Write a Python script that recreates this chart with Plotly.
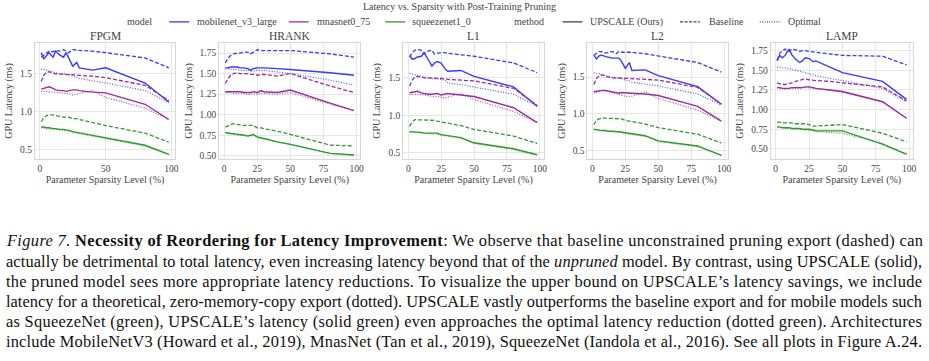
import plotly.graph_objects as go

# ---------------- data ----------------
SPARSITY = [1, 3, 5, 7, 10, 12, 15, 18, 20, 22, 25, 28, 30, 40, 50, 80, 98]
PRUNERS = ["FPGM", "HRANK", "L1", "L2", "LAMP"]
MODELS = ["mobilenet_v3_large", "mnasnet0_75", "squeezenet1_0"]
METHODS = ["UPSCALE (Ours)", "Baseline", "Optimal"]

# FPGM
fpgm_mbv3_ours = [1.78, 1.70, 1.74, 1.78, 1.72, 1.80, 1.75, 1.72, 1.78, 1.70, 1.60, 1.65, 1.58, 1.55, 1.58, 1.38, 1.13]
fpgm_mbv3_base = [1.72, 1.75, 1.78, 1.80, 1.79, 1.81, 1.80, 1.82, 1.80, 1.78, 1.82, 1.82, 1.81, 1.80, 1.78, 1.71, 1.58]
fpgm_mbv3_opt = [1.56, 1.56, 1.55, 1.54, 1.52, 1.51, 1.50, 1.50, 1.49, 1.49, 1.48, 1.46, 1.44, 1.41, 1.38, 1.28, 1.12]
fpgm_mnas_ours = [1.30, 1.31, 1.32, 1.33, 1.31, 1.29, 1.28, 1.28, 1.27, 1.28, 1.29, 1.29, 1.28, 1.26, 1.25, 1.10, 0.90]
fpgm_mnas_base = [1.40, 1.48, 1.52, 1.53, 1.51, 1.50, 1.50, 1.49, 1.49, 1.49, 1.49, 1.48, 1.48, 1.47, 1.45, 1.35, 1.15]
fpgm_mnas_opt = [1.27, 1.27, 1.27, 1.26, 1.26, 1.26, 1.25, 1.25, 1.24, 1.24, 1.22, 1.23, 1.24, 1.28, 1.19, 1.05, 0.90]
fpgm_sq_ours = [0.80, 0.80, 0.79, 0.79, 0.78, 0.78, 0.77, 0.77, 0.76, 0.76, 0.74, 0.73, 0.72, 0.69, 0.65, 0.56, 0.44]
fpgm_sq_base = [0.87, 0.92, 0.95, 0.96, 0.96, 0.95, 0.94, 0.93, 0.93, 0.93, 0.91, 0.91, 0.90, 0.86, 0.82, 0.72, 0.60]
fpgm_sq_opt = [0.79, 0.79, 0.78, 0.78, 0.77, 0.77, 0.76, 0.76, 0.75, 0.75, 0.73, 0.72, 0.71, 0.68, 0.64, 0.55, 0.44]

# HRANK
hrank_mbv3_ours = [1.57, 1.57, 1.58, 1.58, 1.58, 1.57, 1.57, 1.56, 1.54, 1.56, 1.57, 1.57, 1.57, 1.56, 1.55, 1.51, 1.48]
hrank_mbv3_base = [1.63, 1.69, 1.72, 1.74, 1.75, 1.75, 1.76, 1.76, 1.74, 1.76, 1.79, 1.78, 1.78, 1.78, 1.78, 1.74, 1.70]
hrank_mbv3_opt = [1.56, 1.56, 1.55, 1.55, 1.55, 1.54, 1.54, 1.54, 1.53, 1.53, 1.54, 1.54, 1.54, 1.52, 1.50, 1.42, 1.36]
hrank_mnas_ours = [1.28, 1.28, 1.28, 1.28, 1.28, 1.28, 1.27, 1.27, 1.27, 1.28, 1.27, 1.29, 1.28, 1.27, 1.30, 1.14, 1.05]
hrank_mnas_base = [1.38, 1.44, 1.48, 1.50, 1.51, 1.50, 1.50, 1.50, 1.49, 1.49, 1.48, 1.49, 1.49, 1.47, 1.50, 1.35, 1.27]
hrank_mnas_opt = [1.27, 1.27, 1.27, 1.26, 1.26, 1.26, 1.26, 1.25, 1.25, 1.26, 1.25, 1.26, 1.26, 1.25, 1.27, 1.13, 1.05]
hrank_sq_ours = [0.78, 0.78, 0.77, 0.77, 0.76, 0.76, 0.75, 0.74, 0.75, 0.76, 0.73, 0.72, 0.71, 0.67, 0.64, 0.53, 0.51]
hrank_sq_base = [0.85, 0.87, 0.88, 0.89, 0.88, 0.88, 0.87, 0.87, 0.87, 0.87, 0.84, 0.84, 0.83, 0.80, 0.76, 0.63, 0.62]
hrank_sq_opt = [0.78, 0.77, 0.77, 0.76, 0.76, 0.75, 0.75, 0.74, 0.74, 0.75, 0.72, 0.71, 0.71, 0.67, 0.64, 0.53, 0.51]

# L1
l1_mbv3_ours = [1.80, 1.75, 1.76, 1.78, 1.79, 1.84, 1.75, 1.66, 1.70, 1.72, 1.70, 1.62, 1.59, 1.60, 1.52, 1.38, 1.12]
l1_mbv3_base = [1.78, 1.84, 1.87, 1.88, 1.87, 1.82, 1.86, 1.87, 1.82, 1.83, 1.84, 1.84, 1.83, 1.81, 1.79, 1.70, 1.57]
l1_mbv3_opt = [1.56, 1.55, 1.54, 1.53, 1.52, 1.51, 1.50, 1.49, 1.49, 1.49, 1.48, 1.47, 1.43, 1.41, 1.38, 1.28, 1.12]
l1_mnas_ours = [1.30, 1.31, 1.32, 1.32, 1.30, 1.29, 1.28, 1.28, 1.29, 1.29, 1.27, 1.28, 1.29, 1.27, 1.25, 1.10, 0.90]
l1_mnas_base = [1.39, 1.47, 1.51, 1.52, 1.51, 1.50, 1.50, 1.50, 1.49, 1.49, 1.49, 1.49, 1.48, 1.47, 1.46, 1.36, 1.13]
l1_mnas_opt = [1.28, 1.28, 1.29, 1.29, 1.28, 1.27, 1.26, 1.25, 1.25, 1.25, 1.24, 1.23, 1.24, 1.29, 1.21, 1.05, 0.90]
l1_sq_ours = [0.78, 0.78, 0.77, 0.77, 0.77, 0.76, 0.76, 0.76, 0.76, 0.76, 0.74, 0.73, 0.73, 0.70, 0.63, 0.55, 0.47]
l1_sq_base = [0.85, 0.91, 0.94, 0.94, 0.94, 0.94, 0.93, 0.93, 0.93, 0.92, 0.91, 0.90, 0.89, 0.86, 0.81, 0.72, 0.62]
l1_sq_opt = [0.77, 0.77, 0.77, 0.76, 0.76, 0.76, 0.75, 0.75, 0.75, 0.75, 0.73, 0.72, 0.72, 0.69, 0.62, 0.54, 0.46]

# L2
l2_mbv3_ours = [1.80, 1.75, 1.79, 1.80, 1.78, 1.77, 1.76, 1.76, 1.76, 1.72, 1.62, 1.70, 1.59, 1.60, 1.52, 1.37, 1.13]
l2_mbv3_base = [1.80, 1.83, 1.85, 1.85, 1.83, 1.84, 1.85, 1.82, 1.85, 1.84, 1.84, 1.84, 1.84, 1.82, 1.79, 1.70, 1.57]
l2_mbv3_opt = [1.56, 1.56, 1.55, 1.54, 1.52, 1.51, 1.50, 1.49, 1.49, 1.48, 1.46, 1.45, 1.43, 1.41, 1.38, 1.27, 1.12]
l2_mnas_ours = [1.30, 1.31, 1.31, 1.32, 1.32, 1.31, 1.30, 1.29, 1.28, 1.29, 1.29, 1.28, 1.28, 1.27, 1.25, 1.10, 0.90]
l2_mnas_base = [1.40, 1.48, 1.52, 1.53, 1.51, 1.50, 1.49, 1.49, 1.49, 1.49, 1.49, 1.48, 1.48, 1.47, 1.46, 1.36, 1.13]
l2_mnas_opt = [1.28, 1.29, 1.30, 1.31, 1.31, 1.30, 1.28, 1.27, 1.27, 1.25, 1.24, 1.23, 1.24, 1.30, 1.21, 1.05, 0.90]
l2_sq_ours = [0.79, 0.78, 0.78, 0.77, 0.77, 0.76, 0.76, 0.76, 0.76, 0.75, 0.74, 0.73, 0.73, 0.70, 0.63, 0.56, 0.43]
l2_sq_base = [0.85, 0.91, 0.93, 0.94, 0.94, 0.94, 0.93, 0.93, 0.93, 0.93, 0.91, 0.90, 0.89, 0.86, 0.81, 0.72, 0.60]
l2_sq_opt = [0.78, 0.78, 0.77, 0.77, 0.76, 0.76, 0.75, 0.75, 0.75, 0.74, 0.73, 0.72, 0.72, 0.69, 0.62, 0.55, 0.43]

# LAMP
lamp_mbv3_ours = [1.62, 1.69, 1.66, 1.69, 1.77, 1.70, 1.64, 1.60, 1.62, 1.66, 1.65, 1.61, 1.62, 1.55, 1.47, 1.36, 1.13]
lamp_mbv3_base = [1.63, 1.72, 1.75, 1.77, 1.74, 1.77, 1.76, 1.74, 1.75, 1.75, 1.74, 1.73, 1.73, 1.71, 1.69, 1.68, 1.57]
lamp_mbv3_opt = [1.54, 1.54, 1.53, 1.53, 1.52, 1.51, 1.50, 1.49, 1.48, 1.47, 1.45, 1.44, 1.43, 1.40, 1.37, 1.27, 1.10]
lamp_mnas_ours = [1.28, 1.28, 1.27, 1.27, 1.27, 1.28, 1.28, 1.28, 1.28, 1.29, 1.29, 1.28, 1.27, 1.25, 1.23, 1.10, 0.89]
lamp_mnas_base = [1.34, 1.33, 1.32, 1.32, 1.33, 1.34, 1.36, 1.37, 1.38, 1.39, 1.38, 1.37, 1.37, 1.36, 1.34, 1.29, 1.11]
lamp_mnas_opt = [1.28, 1.27, 1.27, 1.26, 1.27, 1.27, 1.27, 1.27, 1.28, 1.28, 1.28, 1.27, 1.27, 1.25, 1.22, 1.10, 0.89]
lamp_sq_ours = [0.78, 0.78, 0.77, 0.77, 0.77, 0.76, 0.76, 0.76, 0.75, 0.75, 0.75, 0.74, 0.73, 0.73, 0.73, 0.56, 0.43]
lamp_sq_base = [0.84, 0.84, 0.83, 0.83, 0.83, 0.83, 0.82, 0.82, 0.82, 0.82, 0.81, 0.79, 0.79, 0.80, 0.81, 0.70, 0.59]
lamp_sq_opt = [0.77, 0.77, 0.77, 0.76, 0.76, 0.76, 0.75, 0.75, 0.75, 0.74, 0.74, 0.73, 0.72, 0.71, 0.70, 0.57, 0.44]

XTICKS = {"FPGM": [0, 50, 100], "HRANK": [0, 25, 50, 75, 100], "L1": [0, 25, 50, 75, 100],
          "L2": [0, 25, 50, 75, 100], "LAMP": [0, 25, 50, 75, 100]}
YTICKS = {"FPGM": ([0.5, 1.0, 1.5], ["0.5", "1.0", "1.5"]),
          "HRANK": ([0.5, 0.75, 1.0, 1.25, 1.5, 1.75], ["0.50", "0.75", "1.00", "1.25", "1.50", "1.75"]),
          "L1": ([0.5, 1.0, 1.5], ["0.5", "1.0", "1.5"]),
          "L2": ([0.5, 1.0, 1.5], ["0.5", "1.0", "1.5"]),
          "LAMP": ([0.5, 0.75, 1.0, 1.25, 1.5, 1.75], ["0.50", "0.75", "1.00", "1.25", "1.50", "1.75"])}

DATA = {
    "FPGM": [[fpgm_mbv3_ours, fpgm_mbv3_base, fpgm_mbv3_opt], [fpgm_mnas_ours, fpgm_mnas_base, fpgm_mnas_opt], [fpgm_sq_ours, fpgm_sq_base, fpgm_sq_opt]],
    "HRANK": [[hrank_mbv3_ours, hrank_mbv3_base, hrank_mbv3_opt], [hrank_mnas_ours, hrank_mnas_base, hrank_mnas_opt], [hrank_sq_ours, hrank_sq_base, hrank_sq_opt]],
    "L1": [[l1_mbv3_ours, l1_mbv3_base, l1_mbv3_opt], [l1_mnas_ours, l1_mnas_base, l1_mnas_opt], [l1_sq_ours, l1_sq_base, l1_sq_opt]],
    "L2": [[l2_mbv3_ours, l2_mbv3_base, l2_mbv3_opt], [l2_mnas_ours, l2_mnas_base, l2_mnas_opt], [l2_sq_ours, l2_sq_base, l2_sq_opt]],
    "LAMP": [[lamp_mbv3_ours, lamp_mbv3_base, lamp_mbv3_opt], [lamp_mnas_ours, lamp_mnas_base, lamp_mnas_opt], [lamp_sq_ours, lamp_sq_base, lamp_sq_opt]],
}

CAPTION_LINES = [
    "<i>Figure 7.</i> <b>Necessity of Reordering for Latency Improvement</b>: We observe that baseline unconstrained pruning export (dashed) can",
    "actually be detrimental to total latency, even increasing latency beyond that of the <i>unpruned</i> model. By contrast, using UPSCALE (solid),",
    "the pruned model sees more appropriate latency reductions. To visualize the upper bound on UPSCALE\u2019s latency savings, we include",
    "latency for a theoretical, zero-memory-copy export (dotted). UPSCALE vastly outperforms the baseline export and for mobile models such",
    "as SqueezeNet (green), UPSCALE\u2019s latency (solid green) even approaches the optimal latency reduction (dotted green). Architectures",
    "include MobileNetV3 (Howard et al., 2019), MnasNet (Tan et al., 2019), SqueezeNet (Iandola et al., 2016). See all plots in Figure A.24.",
]

# ---------------- styling / layout ----------------
W, H = 929, 361
COLORS = ["#3a3af6", "#9a2e9a", "#2f9a2f"]
DASHES = ["solid", "4px,2px", "1px,1.6px"]
WIDTHS = [1.4, 1.3, 1.2]
SERIF = "Liberation Serif"
CAPFONT = "Liberation Serif"
TXT = "#444444"
TICK_SIZE = 9.5
LABEL_SIZE = 10

X_PX = [(35, 176), (220, 362), (405, 546), (590, 731), (774, 917)]
Y_PX = (43, 160)
YRANGE = {"FPGM": [0.378, 1.91], "HRANK": [0.46, 1.875], "L1": [0.411, 1.971],
          "L2": [0.38, 1.97], "LAMP": [0.37, 1.851]}
XRANGE = [-3.8, 102.9]


def px(x):
    return x / W


def py(y):
    return 1 - y / H


fig = go.Figure()
layout = dict(width=W, height=H, margin=dict(l=0, r=0, t=0, b=0),
              paper_bgcolor="white", plot_bgcolor="white", showlegend=False,
              font=dict(family=SERIF, color=TXT, size=10))
annotations = []
shapes = []

for i, name in enumerate(PRUNERS):
    k = "" if i == 0 else str(i + 1)
    xa, ya = "x" + k, "y" + k
    for m in range(3):
        for t in range(3):
            fig.add_trace(go.Scatter(
                x=SPARSITY, y=DATA[name][m][t], mode="lines", xaxis=xa, yaxis=ya,
                line=dict(color=COLORS[m], dash=DASHES[t], width=WIDTHS[t]),
                opacity=0.85 if t == 2 else 1.0,
                name=f"{MODELS[m]} {METHODS[t]}"))
    x0, x1 = X_PX[i]
    layout["xaxis" + k] = dict(
        domain=[px(x0), px(x1)], anchor=ya, range=XRANGE, tickvals=XTICKS[name],
        showgrid=True, gridcolor="#e6e6e6", gridwidth=1, zeroline=False,
        showline=True, mirror=True, linecolor="#d6d6d6", linewidth=1,
        ticks="", tickfont=dict(size=TICK_SIZE, family=SERIF, color=TXT),
        title=dict(text="Parameter Sparsity Level (%)", font=dict(size=LABEL_SIZE, family=SERIF, color=TXT), standoff=2))
    tv, tt = YTICKS[name]
    layout["yaxis" + k] = dict(
        domain=[py(Y_PX[1]), py(Y_PX[0])], anchor=xa, range=YRANGE[name],
        tickvals=tv, ticktext=tt,
        showgrid=True, gridcolor="#e6e6e6", gridwidth=1, zeroline=False,
        showline=True, mirror=True, linecolor="#d6d6d6", linewidth=1,
        ticks="", tickfont=dict(size=TICK_SIZE, family=SERIF, color=TXT),
        title=dict(text="GPU Latency (ms)", font=dict(size=LABEL_SIZE, family=SERIF, color=TXT), standoff=5))
    annotations.append(dict(text=name, x=px((x0 + x1) / 2), y=py(36), xref="paper", yref="paper",
                            xanchor="center", yanchor="middle", showarrow=False,
                            font=dict(size=11.5, family=SERIF, color=TXT)))

# super title
annotations.append(dict(text="Latency vs. Sparsity with Post-Training Pruning", x=px(461), y=py(7),
                        xref="paper", yref="paper", xanchor="center", yanchor="middle", showarrow=False,
                        font=dict(size=10, family=SERIF, color=TXT)))

# legend (manual)
LEG_Y = 22
leg_items = [("model", None, None, 126, None),
             (MODELS[0], COLORS[0], "solid", 196, (170, 190)),
             (MODELS[1], COLORS[1], "solid", 316, (290, 310)),
             (MODELS[2], COLORS[2], "solid", 412, (387, 407)),
             ("method", None, None, 514, None),
             (METHODS[0], TXT, "solid", 591, (565, 585)),
             (METHODS[1], TXT, "3px,1.5px", 710, (683, 703)),
             (METHODS[2], TXT, "1px,1.4px", 789, (763, 783))]
for label, col, dash, tx, seg in leg_items:
    annotations.append(dict(text=label, x=px(tx), y=py(LEG_Y), xref="paper", yref="paper",
                            xanchor="left", yanchor="middle", showarrow=False,
                            font=dict(size=10, family=SERIF, color=TXT)))
    if seg is not None:
        shapes.append(dict(type="line", xref="paper", yref="paper", x0=px(seg[0]), x1=px(seg[1]),
                           y0=py(LEG_Y), y1=py(LEG_Y),
                           line=dict(color=col, width=1.3, dash=dash)))

# caption
CAP_Y = [242, 263, 283, 303, 323, 343]
for line, y in zip(CAPTION_LINES, CAP_Y):
    annotations.append(dict(text=line, x=px(4), y=py(y), xref="paper", yref="paper",
                            xanchor="left", yanchor="middle", showarrow=False, align="left",
                            font=dict(size=16.4, family=CAPFONT, color="#111")))

layout["annotations"] = annotations
layout["shapes"] = shapes
fig.update_layout(**layout)

# full-justify the caption lines (like the typeset original) and remove the page margin
POST = """
document.body.style.margin='0';document.body.style.overflow='hidden';
var gd=document.getElementById('{plot_id}');
function justify(){
  gd.querySelectorAll('text.annotation-text').forEach(function(t){
    if((t.textContent||'').length>90){t.setAttribute('textLength','916');t.setAttribute('lengthAdjust','spacing');}
  });
}
justify();
if(gd.on){gd.on('plotly_afterplot',justify);}
"""
fig.write_html("out.html", config={"displayModeBar": False}, post_script=POST)
